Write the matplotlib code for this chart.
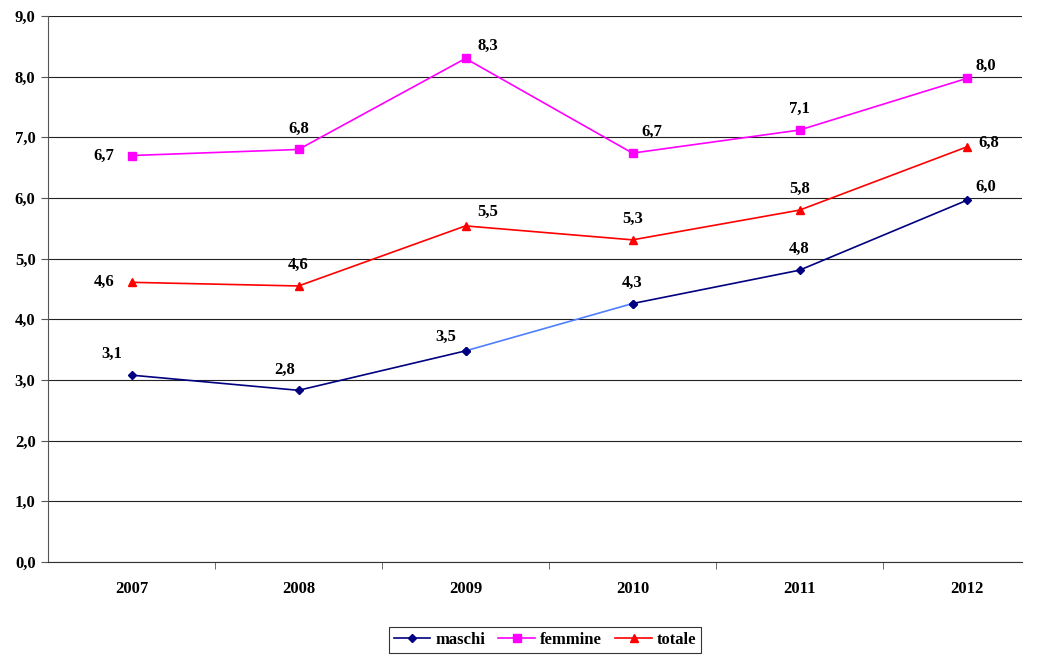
import matplotlib.pyplot as plt
from matplotlib.lines import Line2D

years = ['2007', '2008', '2009', '2010', '2011', '2012']
maschi = [3.08, 2.83, 3.48, 4.26, 4.81, 5.96]
femmine = [6.70, 6.80, 8.30, 6.74, 7.12, 7.97]
totale = [4.61, 4.55, 5.54, 5.31, 5.80, 6.84]
lab_maschi = ['3,1', '2,8', '3,5', '4,3', '4,8', '6,0']
lab_femmine = ['6,7', '6,8', '8,3', '6,7', '7,1', '8,0']
lab_totale = ['4,6', '4,6', '5,5', '5,3', '5,8', '6,8']

plt.rcParams['font.family'] = ['Liberation Serif', 'DejaVu Serif']
plt.rcParams['font.weight'] = 'bold'

W, H = 1043, 655
fig = plt.figure(figsize=(W / 100, H / 100), dpi=100)
ax = fig.add_axes([48 / W, 1 - 562 / H, (1022 - 48) / W, (562 - 16) / H])

x = list(range(len(years)))
navy = '#000080'
ax.plot(x[:3], maschi[:3], color=navy, lw=1.2, marker='D', ms=4.5)
ax.plot(x[2:4], maschi[2:4], color='#4f7fff', lw=1.2)
ax.plot(x[3:], maschi[3:], color=navy, lw=1.2, marker='D', ms=4.5)
ax.plot(x[2:4], maschi[2:4], ls='none', color=navy, marker='D', ms=4.5)
ax.plot(x, femmine, color='#ff00ff', lw=1.2, marker='s', ms=5.5)
ax.plot(x, totale, color='#ff0000', lw=1.2, marker='^', ms=6)

fs = 12
# label offsets (points)
off_m = [(-14, 15), (-10, 15), (-14, 10), (0, 15), (0, 15), (14, 10)]
off_f = [(-20, 0), (0, 15), (16, 9), (14, 15), (0, 15), (14, 9)]
off_t = [(-20, 0), (0, 15), (16, 10), (0, 15), (0, 15), (16, 3)]
for vals, labs, offs in [(maschi, lab_maschi, off_m), (femmine, lab_femmine, off_f), (totale, lab_totale, off_t)]:
    for i, (v, s, o) in enumerate(zip(vals, labs, offs)):
        ax.annotate(s, (i, v), xytext=o, textcoords='offset points', ha='center', va='center',
                    fontsize=fs, fontweight='bold')

ax.set_xlim(-0.5, 5.5 - 28 / 167)
ax.set_ylim(0, 9)
ax.set_yticks(range(10))
ax.set_yticklabels([f'{v},0' for v in range(10)], fontsize=fs, fontweight='bold')
ax.set_xticks(x)
ax.set_xticklabels(years, fontsize=fs, fontweight='bold')
ax.set_xticks([i + 0.5 for i in range(5)], minor=True)
ax.tick_params(axis='x', which='major', length=0, pad=14)
ax.tick_params(axis='x', which='minor', length=5, color='#555555', direction='out')
ax.tick_params(axis='y', length=5, color='#555555', pad=4)
ax.yaxis.grid(True, color='#222222', lw=0.8)
ax.set_axisbelow(True)
for s in ['top', 'right']:
    ax.spines[s].set_visible(False)
ax.spines['left'].set_color('#555555')
ax.spines['bottom'].set_color('#333333')

handles = [Line2D([], [], color=navy, marker='D', ms=4.5, lw=1.2),
           Line2D([], [], color='#ff00ff', marker='s', ms=5.5, lw=1.2),
           Line2D([], [], color='#ff0000', marker='^', ms=6, lw=1.2)]
leg = fig.legend(handles, ['maschi', 'femmine', 'totale'], loc='center', bbox_to_anchor=(545 / W, 1 - 640 / H),
                 ncol=3, frameon=True, fancybox=False, edgecolor='black', fontsize=fs,
                 handlelength=2.2, columnspacing=0.8, handletextpad=0.3, borderpad=0.3)
leg.get_frame().set_linewidth(0.8)

fig.savefig('out.png', dpi=100)
